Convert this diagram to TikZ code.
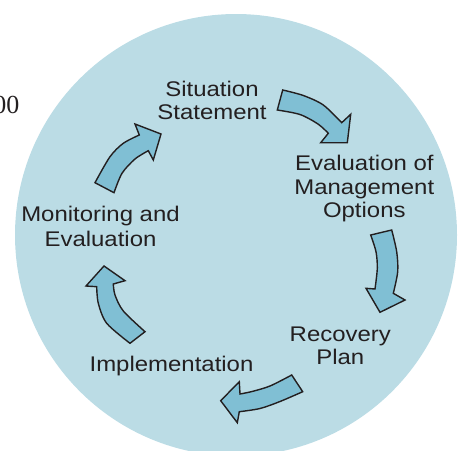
\documentclass[tikz,border=0pt]{standalone}
\usepackage{fontspec}
\newfontfamily\lblfont[FakeStretch=1.13]{Liberation Sans}
\newfontfamily\numfont{Liberation Serif}
\definecolor{disc}{HTML}{BBDCE5}
\definecolor{arrfill}{HTML}{80BFD4}
\definecolor{ink}{HTML}{231F20}
\begin{document}
\begin{tikzpicture}[x=1pt,y=-1pt,
  lbl/.style={font=\lblfont\fontsize{21.2}{23.5}\selectfont, text=ink, align=center, inner sep=0pt, anchor=base},
  blockarrow/.style={fill=arrfill, draw=ink, line width=1.4pt, line join=miter}]
\useasboundingbox (0,0) rectangle (460,450);
\clip (0,0) rectangle (460,450);
\fill[disc] (236,235) circle[radius=221];

\node[font=\numfont\fontsize{26}{26}\selectfont, text=ink, anchor=base east, inner sep=0pt] (num) at (19.5,113) {00};

% anchor=base is the baseline of the last line
\node[lbl, font=\lblfont\fontsize{21.2}{22.6}\selectfont] (sit) at (212,119.3) {Situation\\Statement};
\node[lbl] (eval) at (364.3,217.9) {Evaluation of\\Management\\Options};
\node[lbl] (recov) at (340.3,364.5) {Recovery\\Plan};
\node[lbl] (impl) at (171.5,371.7) {Implementation};
\node[lbl, font=\lblfont\fontsize{21.2}{25}\selectfont] (monit) at (100.5,246) {Monitoring and\\Evaluation};

% arrow 1: Situation -> Evaluation
\filldraw[blockarrow] plot[smooth] coordinates {(282.7,90) (303.3,95.5) (323.3,105) (341.7,122.7)}
  -- (350.7,114.3) -- (347.3,142.7) -- (320.7,142.7)
  -- plot[smooth] coordinates {(328.3,133.3) (318,124) (300,114.5) (277.3,110)} -- cycle;
% arrow 2: Evaluation -> Recovery
\filldraw[blockarrow] plot[smooth] coordinates {(391.7,230) (396.7,251.7) (397.7,271.7) (393.3,293.3)}
  -- (405,300) -- (380,312.3) -- (366,288.3)
  -- plot[smooth] coordinates {(375,289) (377.3,268.3) (376,251.7) (370.7,235)} -- cycle;
% arrow 3: Recovery -> Implementation
\filldraw[blockarrow] plot[smooth] coordinates {(302.7,391.7) (280,401.5) (260,408.5) (239.3,411.7)}
  -- (237.3,422.7) -- (220.7,400.7) -- (239.3,381.7)
  -- plot[smooth] coordinates {(240,394) (252,391.5) (270,386) (291.7,375)} -- cycle;
% arrow 4: Implementation -> Monitoring
\filldraw[blockarrow] plot[smooth] coordinates {(130,343.3) (106.7,323.3) (98.3,303.3) (96.7,286.7)}
  -- (86,286) -- (104,266) -- (125,280.7)
  -- plot[smooth] coordinates {(113.3,284) (115,295) (123.3,311) (145,331.7)} -- cycle;
% arrow 5: Monitoring -> Situation
\filldraw[blockarrow] plot[smooth] coordinates {(95,182.7) (110,156.7) (123.3,143.3) (139.3,135)}
  -- (135,124) -- (161,134) -- (153.3,160)
  -- plot[smooth] coordinates {(148.3,150.7) (135,159) (122,173.3) (114,192.7)} -- cycle;
\end{tikzpicture}
\end{document}
